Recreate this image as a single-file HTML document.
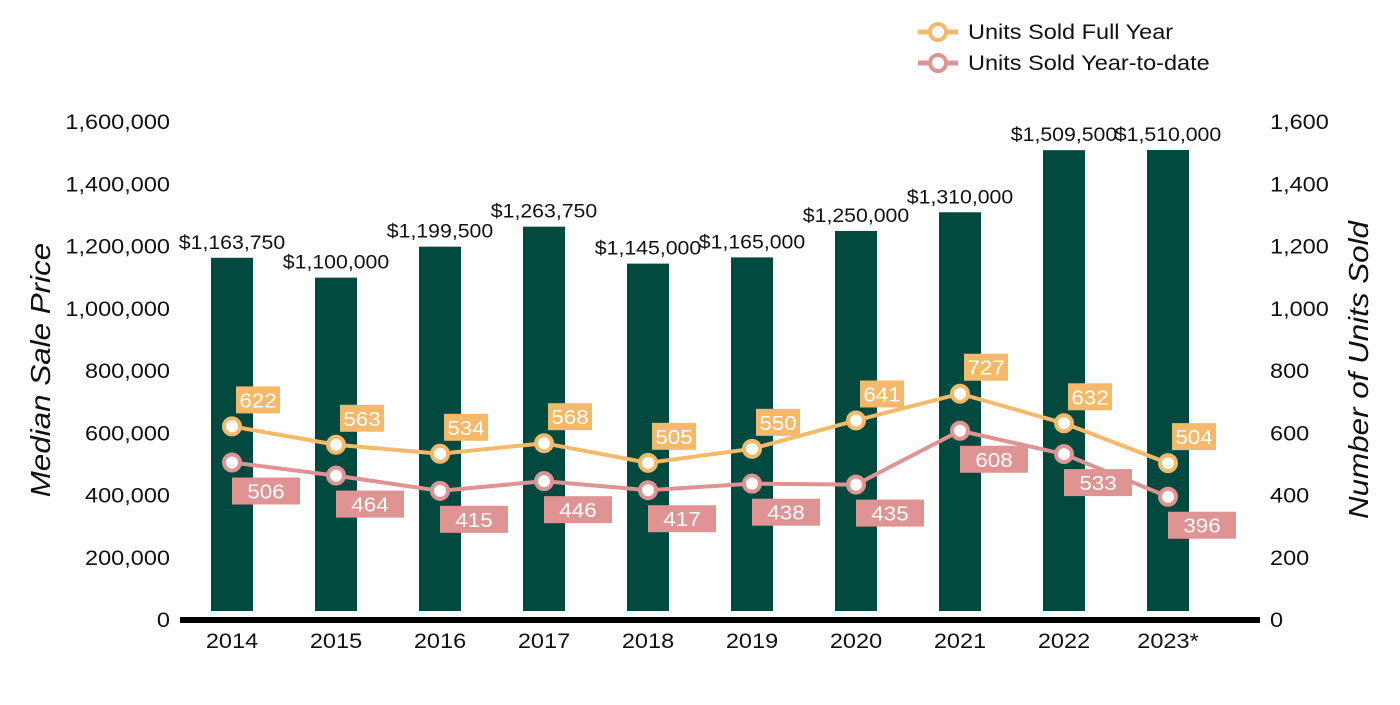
<!DOCTYPE html>
<html><head><meta charset="utf-8"><style>
body{margin:0;background:#fff;font-family:"Liberation Sans",Arial,sans-serif;}
svg text{font-family:"Liberation Sans",Arial,sans-serif;}
</style></head><body>
<svg id="c" width="1400" height="700" xmlns="http://www.w3.org/2000/svg"></svg>
<script>
const years=["2014","2015","2016","2017","2018","2019","2020","2021","2022","2023*"];
const prices=[1163750,1100000,1199500,1263750,1145000,1165000,1250000,1310000,1509500,1510000];
const priceLabels=["$1,163,750","$1,100,000","$1,199,500","$1,263,750","$1,145,000","$1,165,000","$1,250,000","$1,310,000","$1,509,500","$1,510,000"];
const fullYear=[622,563,534,568,505,550,641,727,632,504];
const ytd=[506,464,415,446,417,438,435,608,533,396];
const leftTicks=[0,200000,400000,600000,800000,1000000,1200000,1400000,1600000];
const rightTicks=[0,200,400,600,800,1000,1200,1400,1600];
const svg=document.getElementById('c');
const NS='http://www.w3.org/2000/svg';
const SX=1.12;
function mk(t,a,txt){const e=document.createElementNS(NS,t);for(const k in a)e.setAttribute(k,a[k]);if(txt!=null)e.textContent=txt;svg.appendChild(e);return e;}
function tx(x,y,s,a,rot){const tr='translate('+x+','+y+')'+(rot?' rotate(-90)':'')+' scale('+SX+',1)';a.transform=tr;a.x=0;a.y=0;return mk('text',a,s);}
const y0=620,y1=122;
const yL=v=>y0-(v/1600000)*(y0-y1);
const yR=v=>y0-(v/1600)*(y0-y1);
const xC=i=>232+i*104;
leftTicks.forEach(v=>{const e=tx(170,yL(v)+7,v.toLocaleString('en-US'),{'text-anchor':'end','font-size':21,fill:'#111'});

});
rightTicks.forEach(v=>{const e=tx(1270,yR(v)+7,v.toLocaleString('en-US'),{'font-size':21,fill:'#111'});

});
let t=tx(50,370,'Median Sale Price',{'text-anchor':'middle','font-size':28,'font-style':'italic',fill:'#111'},true);

t=tx(1368,370,'Number of Units Sold',{'text-anchor':'middle','font-size':28,'font-style':'italic',fill:'#111'},true);

prices.forEach((v,i)=>{const b=mk('rect',{x:xC(i)-21,y:yL(v),width:42,height:611-yL(v),fill:'#024a40'});


const l=tx(xC(i),yL(v)-9,priceLabels[i],{'text-anchor':'middle','font-size':19,fill:'#111'});


const xl=tx(xC(i),648,years[i],{'text-anchor':'middle','font-size':21,fill:'#111'});

});
const ax=mk('rect',{x:180,y:617,width:1080,height:6,fill:'#000'});

function series(vals,color,name,above){
 const p=mk('polyline',{points:vals.map((v,i)=>xC(i)+','+yR(v)).join(' '),fill:'none',stroke:color,'stroke-width':4});
 
 vals.forEach((v,i)=>{const c=mk('circle',{cx:xC(i),cy:yR(v),r:8,fill:'#fff',stroke:color,'stroke-width':4});
 
 const bx=above?xC(i)+4:xC(i), by=above?yR(v)-40:yR(v)+15, bw=above?44:68;
 const r=mk('rect',{x:bx,y:by,width:bw,height:27,fill:color});
 
 const tt=tx(bx+bw/2,by+21,String(v),{'text-anchor':'middle','font-size':20,fill:'#fff'});
 });
}
series(fullYear,'#f5b969','full-year',true);
series(ytd,'#e09393','ytd',false);
[['Units Sold Full Year','#f5b969',32],['Units Sold Year-to-date','#e09393',63]].forEach(([n,c,y])=>{
 const l=mk('line',{x1:918,y1:y,x2:958,y2:y,stroke:c,'stroke-width':5});
 
 const ci=mk('circle',{cx:938,cy:y,r:8,fill:'#fff',stroke:c,'stroke-width':4});
 
 const tt=tx(968,y+7,n,{'font-size':21,fill:'#111'});
 });
</script>
</body></html>
